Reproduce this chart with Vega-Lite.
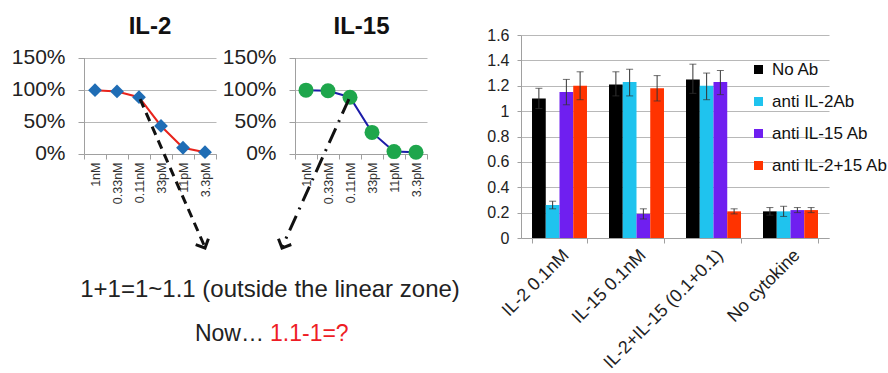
{
  "$schema": "https://vega.github.io/schema/vega-lite/v6.json",
  "background": "white",
  "padding": {"left": 11, "top": 15, "right": 0, "bottom": 0},
  "bounds": "flush",
  "spacing": 79,
  "config": {
    "font": "Liberation Sans",
    "view": {"stroke": null},
    "axis": {"labelFont": "Liberation Sans", "labelOverlap": false, "labelBound": false},
    "legend": {"labelFont": "Liberation Sans"}
  },
  "hconcat": [
    {
      "width": 132,
      "height": 119,
      "title": {"text": "IL-2", "fontSize": 24, "fontWeight": "bold", "frame": "group", "offset": -4, "color": "#111"},
      "data": {"values": [
        {"dose": 0, "label": "1nM", "response": 0.99},
        {"dose": 1, "label": "0.33nM", "response": 0.97},
        {"dose": 2, "label": "0.11nM", "response": 0.88},
        {"dose": 3, "label": "33pM", "response": 0.43},
        {"dose": 4, "label": "11pM", "response": 0.09},
        {"dose": 5, "label": "3.3pM", "response": 0.02}
      ]},
      "layer": [
        {
          "mark": {"type": "line", "color": "#e8241c", "strokeWidth": 2},
          "encoding": {
            "x": {"field": "dose", "type": "quantitative",
              "scale": {"domain": [-0.5, 5.5], "range": [0, 132], "nice": false, "zero": false},
              "axis": {"title": null, "values": [-0.5, 0.5, 1.5, 2.5, 3.5, 4.5, 5.5], "tickCount": 50, "labelOverlap": false, "labelFlush": false, "labelExpr": "['1nM','0.33nM','0.11nM','33pM','11pM','3.3pM',''][round(datum.value + 0.5)]", "labelOffset": 11, "labelAngle": -90, "labelFontSize": 12.5, "labelColor": "#333", "labelPadding": 3, "ticks": true, "tickSize": 5, "tickColor": "#a0a0a0", "grid": false, "domainColor": "#a0a0a0"}},
            "y": {"field": "response", "type": "quantitative",
              "scale": {"domain": [0, 1.5], "range": [118.5, 22.5], "nice": false, "zero": false},
              "axis": {"title": null, "values": [0, 0.5, 1, 1.5], "tickCount": 50, "labelOverlap": false, "labelFlush": false, "format": ".0%", "labelFontSize": 21, "labelColor": "#222", "labelPadding": 13, "tickSize": 6, "tickColor": "#a0a0a0", "domainColor": "#a0a0a0", "grid": true, "gridColor": "#b8b8b8"}}
          }
        },
        {
          "mark": {"type": "point", "shape": "diamond", "filled": true, "color": "#1f6db5", "size": 190, "opacity": 1},
          "encoding": {
            "x": {"field": "dose", "type": "quantitative"},
            "y": {"field": "response", "type": "quantitative"}
          }
        },
        {
          "data": {"values": [{}]},
          "mark": {"type": "rule", "color": "#111", "strokeWidth": 3, "strokeDash": [9, 6]},
          "encoding": {
            "x": {"datum": 2.05, "type": "quantitative"},
            "y": {"datum": 0.85, "type": "quantitative"},
            "x2": {"datum": 4.98},
            "y2": {"datum": -1.45}
          }
        },
        {
          "data": {"values": [{}]},
          "mark": {"type": "point", "shape": "M-1,-1L0,0L1,-1", "filled": false, "stroke": "#111", "strokeWidth": 3, "size": 196, "angle": -25, "opacity": 1},
          "encoding": {
            "x": {"datum": 5.0, "type": "quantitative"},
            "y": {"datum": -1.477, "type": "quantitative"}
          }
        },
        {
          "data": {"values": [{}]},
          "mark": {"type": "text", "text": "1+1=1~1.1 (outside the linear zone)", "fontSize": 24, "align": "center", "baseline": "alphabetic", "color": "#222"},
          "encoding": {
            "x": {"datum": 7.955, "type": "quantitative"},
            "y": {"datum": -2.24, "type": "quantitative"}
          }
        },
        {
          "data": {"values": [{}]},
          "mark": {"type": "text", "text": "Now…", "fontSize": 23, "align": "right", "baseline": "alphabetic", "color": "#222"},
          "encoding": {
            "x": {"datum": 7.68, "type": "quantitative"},
            "y": {"datum": -2.93, "type": "quantitative"}
          }
        },
        {
          "data": {"values": [{}]},
          "mark": {"type": "text", "text": "1.1-1=?", "fontSize": 23, "align": "left", "baseline": "alphabetic", "color": "#ee1c25"},
          "encoding": {
            "x": {"datum": 7.955, "type": "quantitative"},
            "y": {"datum": -2.93, "type": "quantitative"}
          }
        }
      ]
    },
    {
      "width": 147,
      "height": 119,
      "title": {"text": "IL-15", "fontSize": 24, "fontWeight": "bold", "frame": "group", "offset": -4, "dx": -7, "color": "#111"},
      "data": {"values": [
        {"dose": 0, "label": "1nM", "response": 0.99},
        {"dose": 1, "label": "0.33nM", "response": 0.98},
        {"dose": 2, "label": "0.11nM", "response": 0.88},
        {"dose": 3, "label": "33pM", "response": 0.33},
        {"dose": 4, "label": "11pM", "response": 0.03},
        {"dose": 5, "label": "3.3pM", "response": 0.02}
      ]},
      "layer": [
        {
          "mark": {"type": "line", "color": "#1c1ca8", "strokeWidth": 2},
          "encoding": {
            "x": {"field": "dose", "type": "quantitative",
              "scale": {"domain": [-0.5, 5.5], "range": [0, 132], "nice": false, "zero": false},
              "axis": {"title": null, "values": [-0.5, 0.5, 1.5, 2.5, 3.5, 4.5, 5.5], "tickCount": 50, "labelOverlap": false, "labelFlush": false, "labelExpr": "['1nM','0.33nM','0.11nM','33pM','11pM','3.3pM',''][round(datum.value + 0.5)]", "labelOffset": 11, "labelAngle": -90, "labelFontSize": 12.5, "labelColor": "#333", "labelPadding": 3, "ticks": true, "tickSize": 5, "tickColor": "#a0a0a0", "grid": false, "domainColor": "#a0a0a0"}},
            "y": {"field": "response", "type": "quantitative",
              "scale": {"domain": [0, 1.5], "range": [118.5, 22.5], "nice": false, "zero": false},
              "axis": {"title": null, "values": [0, 0.5, 1, 1.5], "tickCount": 50, "labelOverlap": false, "labelFlush": false, "format": ".0%", "labelFontSize": 21, "labelColor": "#222", "labelPadding": 13, "tickSize": 6, "tickColor": "#a0a0a0", "domainColor": "#a0a0a0", "grid": true, "gridColor": "#b8b8b8"}}
          }
        },
        {
          "mark": {"type": "point", "shape": "circle", "filled": true, "color": "#1ea64c", "size": 225, "opacity": 1},
          "encoding": {
            "x": {"field": "dose", "type": "quantitative"},
            "y": {"field": "response", "type": "quantitative"}
          }
        },
        {
          "data": {"values": [{}]},
          "mark": {"type": "rule", "color": "#111", "strokeWidth": 3, "strokeDash": [16, 7, 2, 7]},
          "encoding": {
            "x": {"datum": 1.95, "type": "quantitative"},
            "y": {"datum": 0.85, "type": "quantitative"},
            "x2": {"datum": -1.07},
            "y2": {"datum": -1.45}
          }
        },
        {
          "data": {"values": [{}]},
          "mark": {"type": "point", "shape": "M-1,-1L0,0L1,-1", "filled": false, "stroke": "#111", "strokeWidth": 3, "size": 196, "angle": 24, "opacity": 1},
          "encoding": {
            "x": {"datum": -1.09, "type": "quantitative"},
            "y": {"datum": -1.477, "type": "quantitative"}
          }
        }
      ]
    },
    {
      "width": 308,
      "height": 203,
      "data": {"values": [
        {"group": "IL-2 0.1nM", "series": "No Ab", "value": 1.10, "lo": 1.02, "hi": 1.18},
        {"group": "IL-2 0.1nM", "series": "anti IL-2Ab", "value": 0.26, "lo": 0.23, "hi": 0.29},
        {"group": "IL-2 0.1nM", "series": "anti IL-15 Ab", "value": 1.15, "lo": 1.05, "hi": 1.25},
        {"group": "IL-2 0.1nM", "series": "anti IL-2+15 Ab", "value": 1.20, "lo": 1.09, "hi": 1.31},
        {"group": "IL-15 0.1nM", "series": "No Ab", "value": 1.21, "lo": 1.12, "hi": 1.31},
        {"group": "IL-15 0.1nM", "series": "anti IL-2Ab", "value": 1.23, "lo": 1.12, "hi": 1.33},
        {"group": "IL-15 0.1nM", "series": "anti IL-15 Ab", "value": 0.19, "lo": 0.15, "hi": 0.23},
        {"group": "IL-15 0.1nM", "series": "anti IL-2+15 Ab", "value": 1.18, "lo": 1.08, "hi": 1.28},
        {"group": "IL-2+IL-15 (0.1+0.1)", "series": "No Ab", "value": 1.25, "lo": 1.14, "hi": 1.37},
        {"group": "IL-2+IL-15 (0.1+0.1)", "series": "anti IL-2Ab", "value": 1.20, "lo": 1.09, "hi": 1.30},
        {"group": "IL-2+IL-15 (0.1+0.1)", "series": "anti IL-15 Ab", "value": 1.23, "lo": 1.13, "hi": 1.32},
        {"group": "IL-2+IL-15 (0.1+0.1)", "series": "anti IL-2+15 Ab", "value": 0.21, "lo": 0.19, "hi": 0.23},
        {"group": "No cytokine", "series": "No Ab", "value": 0.21, "lo": 0.18, "hi": 0.24},
        {"group": "No cytokine", "series": "anti IL-2Ab", "value": 0.21, "lo": 0.17, "hi": 0.25},
        {"group": "No cytokine", "series": "anti IL-15 Ab", "value": 0.22, "lo": 0.20, "hi": 0.24},
        {"group": "No cytokine", "series": "anti IL-2+15 Ab", "value": 0.22, "lo": 0.20, "hi": 0.24}
      ]},
      "encoding": {
        "x": {"field": "group", "type": "nominal",
          "sort": ["IL-2 0.1nM", "IL-15 0.1nM", "IL-2+IL-15 (0.1+0.1)", "No cytokine"],
          "scale": {"paddingInner": 0.286, "paddingOuter": 0.143},
          "axis": {"title": null, "labelAngle": -45, "labelOverlap": false, "labelFontSize": 18, "labelColor": "#222", "labelPadding": 3, "tickBand": "extent", "tickSize": 5, "tickColor": "#a0a0a0", "domainColor": "#a0a0a0", "grid": false}},
        "xOffset": {"field": "series", "type": "nominal",
          "sort": ["No Ab", "anti IL-2Ab", "anti IL-15 Ab", "anti IL-2+15 Ab"],
          "scale": {"paddingInner": 0, "paddingOuter": 0}}
      },
      "layer": [
        {
          "mark": {"type": "bar"},
          "encoding": {
            "y": {"field": "value", "type": "quantitative",
              "scale": {"domain": [0, 1.6], "nice": false},
              "axis": {"title": null, "values": [0, 0.2, 0.4, 0.6, 0.8, 1, 1.2, 1.4, 1.6], "tickCount": 50, "labelOverlap": false, "labelFlush": false, "format": "~g", "labelFontSize": 16, "labelColor": "#222", "labelPadding": 8, "tickSize": 4, "tickColor": "#a0a0a0", "domainColor": "#a0a0a0", "grid": true, "gridColor": "#b8b8b8"}},
            "color": {"field": "series", "type": "nominal",
              "sort": ["No Ab", "anti IL-2Ab", "anti IL-15 Ab", "anti IL-2+15 Ab"],
              "scale": {"domain": ["No Ab", "anti IL-2Ab", "anti IL-15 Ab", "anti IL-2+15 Ab"], "range": ["#000000", "#1fc3ee", "#6f1ff0", "#ff3300"]},
              "legend": {"title": null, "orient": "none", "legendX": 666, "legendY": 26, "labelFontSize": 17, "labelColor": "#111", "symbolType": "square", "symbolSize": 81, "symbolStrokeWidth": 0, "rowPadding": 14, "labelOffset": 5, "padding": 0}}
          }
        },
        {
          "mark": {"type": "rule", "color": "#333", "strokeWidth": 1},
          "encoding": {
            "y": {"field": "lo", "type": "quantitative"},
            "y2": {"field": "hi"}
          }
        },
        {
          "mark": {"type": "tick", "color": "#333", "size": 7, "thickness": 1},
          "encoding": {"y": {"field": "lo", "type": "quantitative"}}
        },
        {
          "mark": {"type": "tick", "color": "#333", "size": 7, "thickness": 1},
          "encoding": {"y": {"field": "hi", "type": "quantitative"}}
        }
      ]
    }
  ]
}
